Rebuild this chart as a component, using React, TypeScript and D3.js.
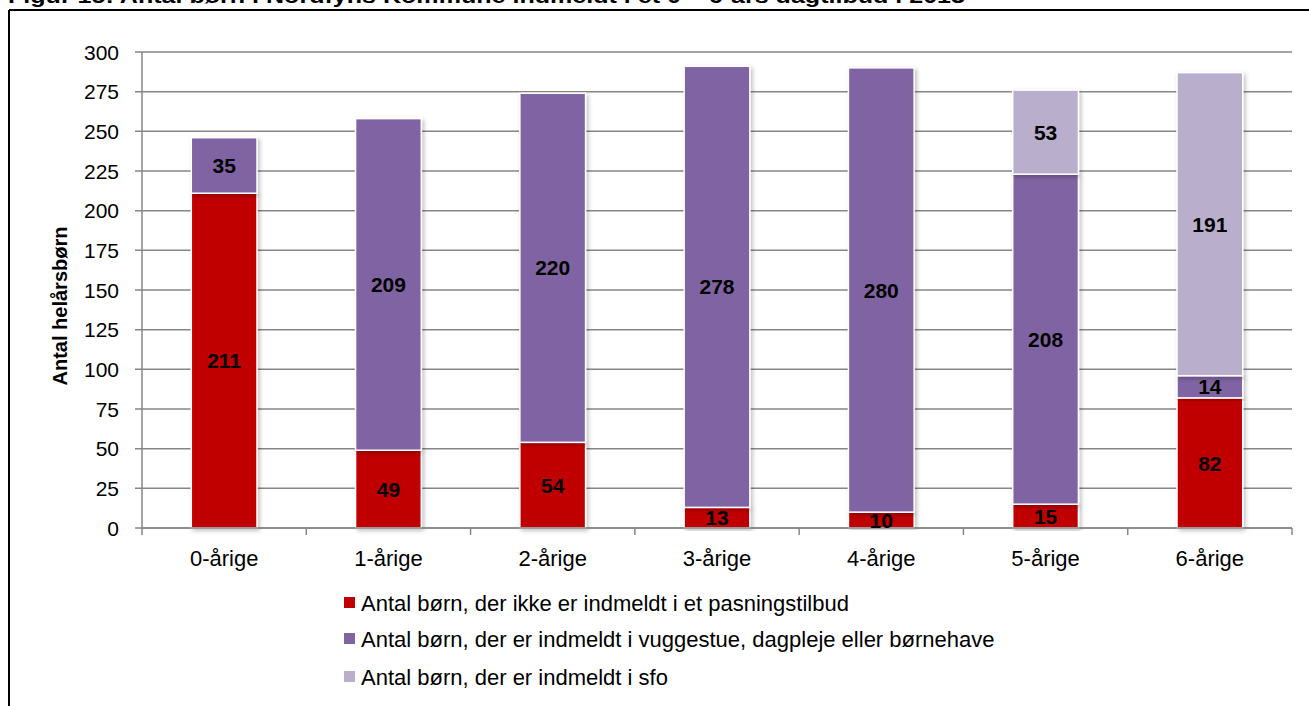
import React from "react";
import * as d3 from "d3";

const categories = ["0-årige", "1-årige", "2-årige", "3-årige", "4-årige", "5-årige", "6-årige"];
const notEnrolled = [211, 49, 54, 13, 10, 15, 82];
const daycare = [35, 209, 220, 278, 280, 208, 14];
const sfo = [0, 0, 0, 0, 0, 53, 191];
const yTicks = [0, 25, 50, 75, 100, 125, 150, 175, 200, 225, 250, 275, 300];
const seriesNames = [
  "Antal børn, der ikke er indmeldt i et pasningstilbud",
  "Antal børn, der er indmeldt i vuggestue, dagpleje eller børnehave",
  "Antal børn, der er indmeldt i sfo",
];
const colors = ["#C00000", "#8064A2", "#B9AECB"];
const title = "Figur 15: Antal børn i Nordfyns Kommune indmeldt i et 0 – 6-års dagtilbud i 2013";
const yTitle = "Antal helårsbørn";

const W = 1309;
const H = 706;
const FONT = "'Liberation Sans', Arial, sans-serif";

export default function App() {
  const x = d3.scaleBand<string>().domain(categories).range([142, 1292]).paddingInner(0.6).paddingOuter(0.3);
  const xb = d3.scaleBand<string>().domain(categories).range([142, 1292]);
  const y = d3.scaleLinear().domain([0, 300]).range([528, 52]);

  const rows = categories.map((c, i) => ({ cat: c, s0: notEnrolled[i], s1: daycare[i], s2: sfo[i] }));
  const stack = d3.stack<any>().keys(["s0", "s1", "s2"])(rows);

  const legendY = [603, 639, 677];

  return (
    <svg width={W} height={H} style={{ position: "absolute", left: 0, top: 0, background: "#fff" }} fontFamily={FONT}>
      <defs>
        <filter id="sh" x="-20%" y="-5%" width="150%" height="115%">
          <feDropShadow dx="2" dy="2" stdDeviation="2" floodColor="#000" floodOpacity="0.25" />
        </filter>
      </defs>
      <rect x={0} y={0} width={W} height={H} fill="#fff" />
      {/* title (cut at top, as in the reference) */}
      <text x={8} y={3} fontSize={20} fontWeight="bold" textLength={957} lengthAdjust="spacingAndGlyphs" fill="#000">
        {title}
      </text>
      {/* frame */}
      <line x1={9} y1={10} x2={W + 5} y2={10} stroke="#000" strokeWidth={2} />
      <line x1={9} y1={10} x2={9} y2={H + 5} stroke="#000" strokeWidth={2} />

      {/* gridlines */}
      {yTicks.map((t) => (
        <g key={t}>
          <line x1={135} x2={1292} y1={y(t)} y2={y(t)} stroke="#868686" strokeWidth={1.5} />
          <text x={119} y={y(t)} dy="0.36em" textAnchor="end" fontSize={21} fill="#000">
            {t}
          </text>
        </g>
      ))}
      {/* y axis */}
      <line x1={142} x2={142} y1={52} y2={528} stroke="#868686" strokeWidth={1.5} />
      {/* x axis ticks */}
      {categories.map((c) => (
        <line key={c} x1={xb(c)!} x2={xb(c)!} y1={528} y2={535} stroke="#868686" strokeWidth={1.5} />
      ))}
      <line x1={1292} x2={1292} y1={528} y2={535} stroke="#868686" strokeWidth={1.5} />

      {/* bars */}
      {stack.map((layer, si) =>
        layer.map((d, i) => {
          const v = d[1] - d[0];
          if (v <= 0) return null;
          return (
            <rect
              key={si + "-" + i}
              x={x(categories[i])!}
              width={x.bandwidth()}
              y={y(d[1])}
              height={y(d[0]) - y(d[1])}
              fill={colors[si]}
              stroke="#fff"
              strokeWidth={1.5}
              filter="url(#sh)"
            />
          );
        })
      )}
      <line x1={142} x2={1292} y1={528} y2={528} stroke="#868686" strokeWidth={1.5} />
      {/* labels */}
      {stack.map((layer, si) =>
        layer.map((d, i) => {
          const v = d[1] - d[0];
          if (v <= 0) return null;
          return (
            <text
              key={"l" + si + "-" + i}
              x={x(categories[i])! + x.bandwidth() / 2}
              y={y((d[0] + d[1]) / 2)}
              dy="0.36em"
              textAnchor="middle"
              fontSize={21}
              fontWeight="bold"
              fill="#000"
            >
              {v}
            </text>
          );
        })
      )}

      {/* x labels */}
      {categories.map((c) => (
        <text key={"x" + c} x={xb(c)! + xb.bandwidth() / 2} y={566} textAnchor="middle" fontSize={22} fill="#000">
          {c}
        </text>
      ))}

      {/* y title */}
      <text
        transform={`translate(67,306) rotate(-90)`}
        textAnchor="middle"
        fontSize={20}
        fontWeight="bold"
        fill="#000"
      >
        {yTitle}
      </text>

      {/* legend */}
      {seriesNames.map((n, i) => (
        <g key={n}>
          <rect x={344} y={legendY[i] - 6} width={11} height={11} fill={colors[i]} />
          <text x={361} y={legendY[i]} dy="0.36em" fontSize={22} fill="#000">
            {n}
          </text>
        </g>
      ))}
    </svg>
  );
}
